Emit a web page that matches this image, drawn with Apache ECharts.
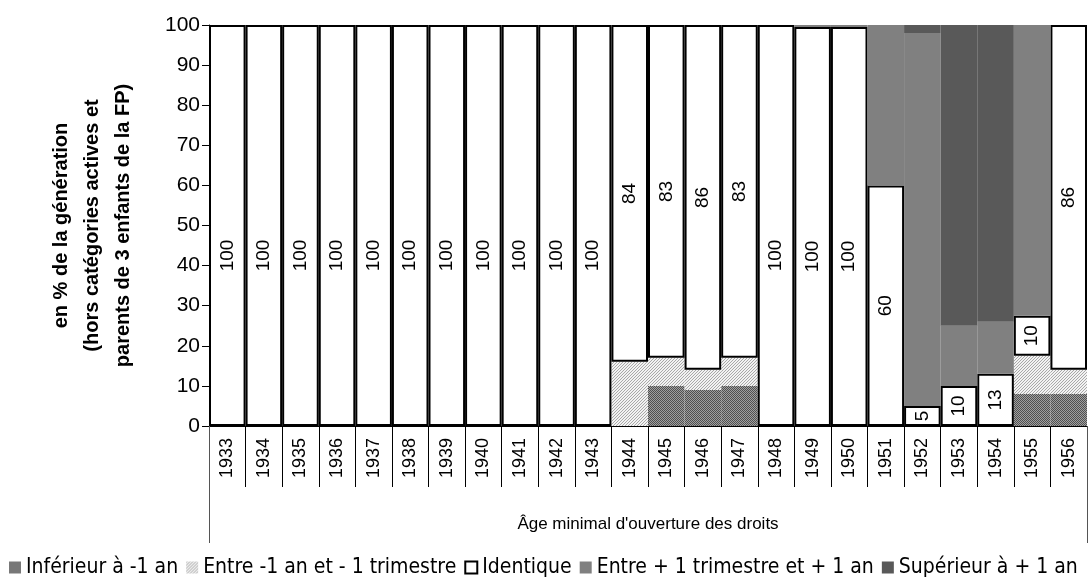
<!DOCTYPE html>
<html>
<head>
<meta charset="utf-8">
<script src="https://cdn.jsdelivr.net/npm/echarts@6/dist/echarts.min.js"></script>
<style>
  html, body { margin: 0; padding: 0; background: #fff; }
  #chart { width: 1092px; height: 586px; }
</style>
</head>
<body>
<div id="chart"></div>
<script>
// catégories (année de naissance)
const years = ['1933', '1934', '1935', '1936', '1937', '1938', '1939', '1940', '1941', '1942', '1943', '1944',
  '1945', '1946', '1947', '1948', '1949', '1950', '1951', '1952', '1953', '1954', '1955', '1956']

const inferieur = [0, 0, 0, 0, 0, 0, 0, 0, 0, 0, 0, 0, 10, 9, 10, 0, 0, 0, 0, 0, 0, 0, 8, 8]
const entreMoins = [0, 0, 0, 0, 0, 0, 0, 0, 0, 0, 0, 16, 7, 5, 7, 0, 0, 0, 0, 0, 0, 0, 9.5, 6]
const identique = [100, 100, 100, 100, 100, 100, 100, 100, 100, 100, 100, 84, 83, 86, 83, 100, 99.5, 99.5, 60, 5, 10, 13, 10, 86]
const entrePlus = [0, 0, 0, 0, 0, 0, 0, 0, 0, 0, 0, 0, 0, 0, 0, 0, 0.5, 0.5, 40, 93, 15, 13, 72.5, 0]
const superieur = [0, 0, 0, 0, 0, 0, 0, 0, 0, 0, 0, 0, 0, 0, 0, 0, 0, 0, 0, 2, 75, 74, 0, 0]

const yTicks = [0, 10, 20, 30, 40, 50, 60, 70, 80, 90, 100]

// motifs façon Excel
const makePattern = (size, bg, fg, dots) => {
  const c = document.createElement('canvas')
  c.width = size
  c.height = size
  const ctx = c.getContext('2d')
  ctx.fillStyle = bg
  ctx.fillRect(0, 0, size, size)
  ctx.fillStyle = fg
  dots.forEach(([x, y]) => ctx.fillRect(x, y, 1, 1))
  return c
}
const darkHatch = makePattern(2, '#a0a0a0', '#505050', [[0, 0], [1, 1]])
const lightDots = makePattern(3, '#f2f2f2', '#a8a8a8', [[0, 0], [1, 2], [2, 1]])

const font = 'Liberation Sans, Arial, sans-serif'

const seg = (name, data, color, extra) => Object.assign({
  name,
  type: 'bar',
  stack: 'total',
  data,
  barCategoryGap: 0,
  itemStyle: { color },
  emphasis: { disabled: true }
}, extra || {})

// les étiquettes des barres pleines sont plus basses dans l'original
// (offset dans le repère du texte tourné : -x = vers le bas)
const identiqueData = identique.map(v => v >= 99 ? { value: v, label: { offset: [-30, 0] } } : v)

const chart = echarts.init(document.getElementById('chart'))
chart.setOption({
  animation: false,
  textStyle: { fontFamily: font },
  grid: { left: 209, right: 5, top: 25, bottom: 160 },
  legend: {
    bottom: 3,
    left: 4,
    itemGap: 8,
    itemWidth: 12,
    itemHeight: 12,
    textStyle: { fontSize: 21, color: '#000', fontFamily: "'Liberation Sans Narrow', 'DejaVu Sans Condensed', sans-serif" },
    data: [
      { name: 'Inférieur à -1 an', icon: 'rect' },
      { name: 'Entre -1 an et - 1 trimestre', icon: 'rect' },
      { name: 'Identique', icon: 'rect' },
      { name: 'Entre + 1 trimestre et + 1 an', icon: 'rect' },
      { name: 'Supérieur à + 1 an', icon: 'rect' }
    ]
  },
  xAxis: [
    {
      type: 'category',
      data: years,
      axisLine: { lineStyle: { color: '#000', width: 1 } },
      axisTick: { show: true, interval: 0, length: 61, lineStyle: { color: '#000' } },
      axisLabel: { interval: 0, rotate: 90, fontSize: 18, color: '#000', margin: 12 },
      name: "Âge minimal d'ouverture des droits",
      nameLocation: 'middle',
      nameGap: 90,
      nameTextStyle: { fontSize: 17, color: '#000' }
    },
    {
      type: 'category',
      position: 'bottom',
      data: [''],
      axisLine: { show: false },
      axisTick: { show: true, length: 117, lineStyle: { color: '#555' } },
      axisLabel: { show: false }
    }
  ],
  yAxis: {
    type: 'value',
    min: yTicks[0],
    max: yTicks[yTicks.length - 1],
    interval: 10,
    axisLine: { show: true, lineStyle: { color: '#000' } },
    axisTick: { show: true, length: 7, lineStyle: { color: '#000' } },
    axisLabel: { fontSize: 21, color: '#000', margin: 9 },
    splitLine: { show: false },
    name: 'en % de la génération\n(hors catégories actives et\nparents de 3 enfants de la FP)',
    nameLocation: 'middle',
    nameGap: 70,
    nameTextStyle: { fontSize: 20, fontWeight: 'bold', color: '#000', lineHeight: 31 }
  },
  series: [
    seg('Inférieur à -1 an', inferieur, { image: darkHatch, repeat: 'repeat' }),
    seg('Entre -1 an et - 1 trimestre', entreMoins, { image: lightDots, repeat: 'repeat' }),
    seg('Identique', identiqueData, '#fff', {
      itemStyle: { color: '#fff', borderColor: '#000', borderWidth: 2 },
      label: {
        show: true,
        position: 'inside',
        rotate: 90,
        fontSize: 19,
        color: '#000',
        formatter: (p) => Math.round(p.value)
      }
    }),
    seg('Entre + 1 trimestre et + 1 an', entrePlus, '#808080'),
    seg('Supérieur à + 1 an', superieur, '#595959')
  ]
})
</script>
</body>
</html>
